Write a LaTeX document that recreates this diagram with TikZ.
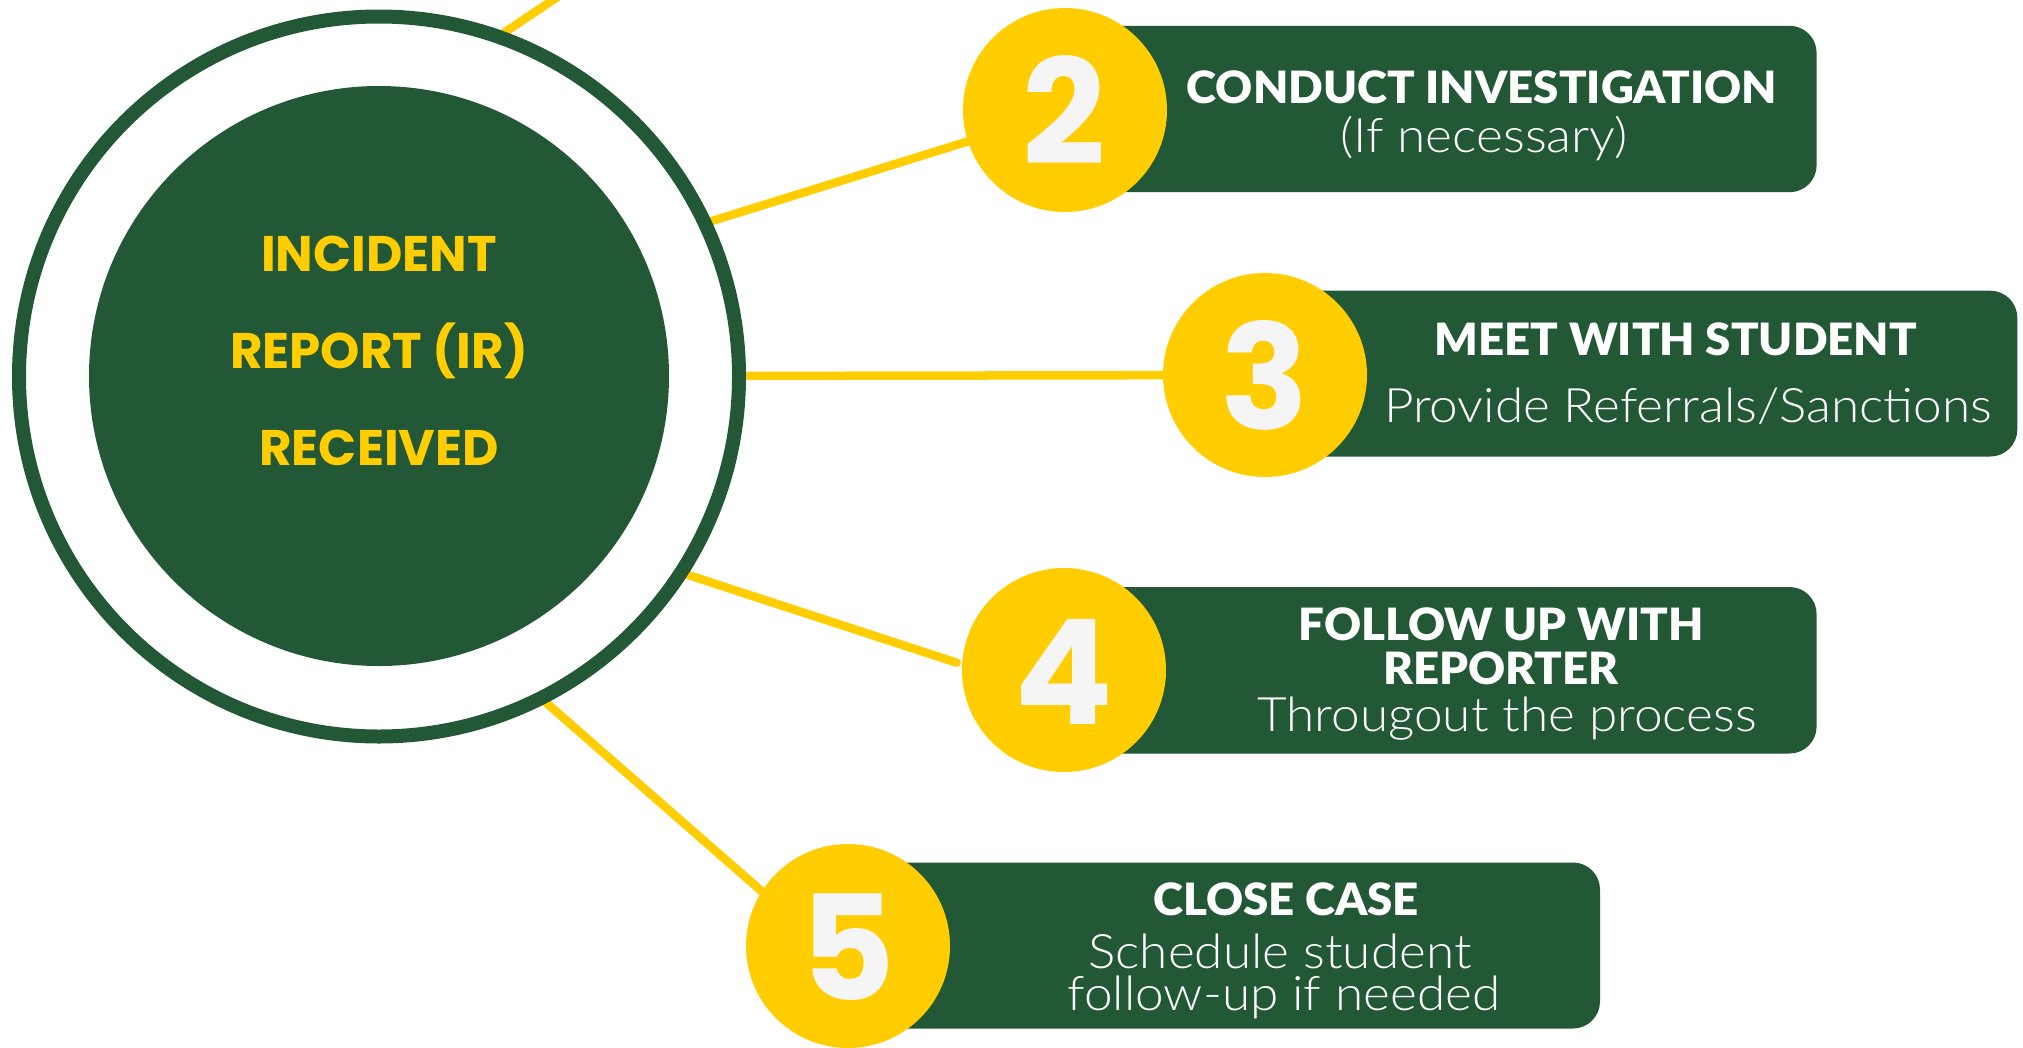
\documentclass[tikz,border=0pt]{standalone}
\usepackage{fontspec}
\setmainfont{Lato}[FakeStretch=1.04]
\newfontfamily\heavyfont{Lato Black}[FakeStretch=1.025]
\newfontfamily\lightfont{Lato Light}[FakeStretch=1.08]
\newfontfamily\popfont{Poppins}
\definecolor{dgreen}{HTML}{225835}
\definecolor{gold}{HTML}{FFCD00}
\definecolor{offwhite}{HTML}{F5F5F5}
\begin{document}
\begin{tikzpicture}[x=1pt,y=-1pt,
  conn/.style={draw=gold,line width=8.5pt},
  numdisc/.style={circle,fill=gold,minimum size=204pt,inner sep=0pt},
  digit/.style={font=\popfont\bfseries\fontsize{146}{146}\selectfont,text=offwhite,inner sep=0pt},
  ctext/.style={font=\popfont\bfseries\fontsize{50}{60}\selectfont,text=gold,anchor=base,inner sep=0pt},
  ttl/.style={font=\heavyfont\fontsize{44.5}{50}\selectfont,text=white,anchor=base,inner sep=0pt},
  sub/.style={font=\lightfont\fontsize{47.5}{50}\selectfont,text=white,anchor=base,inner sep=0pt},
  stepbox/.style={fill=dgreen,rounded corners=27pt}]
\useasboundingbox (0,0) rectangle (2023,1047);
\clip (0,0) rectangle (2023,1047);
% connector end points
\coordinate (a1) at (450,69);
\coordinate (b1) at (620,-45);
\coordinate (a2) at (650,240.3);
\coordinate (b2) at (1010,128.3);
\coordinate (a3) at (700,376);
\coordinate (a4) at (650,562.5);
\coordinate (b4) at (956.7,662.7);
\coordinate (a5) at (500,662.4);
\coordinate (b5) at (790,916);
% number discs positions
\coordinate (p2) at (1065,110);
\coordinate (p3) at (1265,375);
\coordinate (p4) at (1064,670);
\coordinate (p5) at (848,946);
% connectors
\draw[conn] (a1) -- (b1);
\draw[conn] (a2) -- (b2);
\draw[conn] (a3) -- (p3);
\draw[conn,line cap=round] (a4) -- (b4);
\draw[conn] (a5) -- (b5);
% central circle
\node[circle,draw=dgreen,line width=14pt,fill=white,minimum size=720pt,inner sep=0pt] (outer) at (379,376.5) {};
\node[circle,fill=dgreen,minimum size=580pt,inner sep=0pt] (inner) at (379,376) {};
\node[ctext] (c1) at (379,271) {INCIDENT};
\node[ctext] (c2) at (379,368) {REPORT (IR)};
\node[ctext] (c3) at (379,465) {RECEIVED};
% boxes
\fill[stepbox] (1065,25.8) rectangle (1816.6,192.2);
\fill[stepbox] (1265,290.7) rectangle (2017.3,456.5);
\fill[stepbox] (1064,587) rectangle (1816.6,753.5);
\fill[stepbox] (848,862.5) rectangle (1600,1028.5);
% discs
\node[numdisc] (n2) at (p2) {};
\node[numdisc] (n3) at (p3) {};
\node[numdisc] (n4) at (p4) {};
\node[numdisc] (n5) at (p5) {};
\node[digit] (d2) at (1064,110) {2};
\node[digit] (d3) at (1265,375.5) {3};
\node[digit] (d4) at (1064,672) {4};
\node[digit] (d5) at (848,947) {5};
% texts
\node[ttl] (t2) at (1482,103) {CONDUCT INVESTIGATION};
\node[sub] (s2) at (1484,152) {(If necessary)};
\node[ttl] (t3) at (1676,355) {MEET WITH STUDENT};
\node[sub] (s3) at (1688,422) {Provide Referrals/Sanctions};
\node[ttl] (t4a) at (1501,640) {FOLLOW UP WITH};
\node[ttl] (t4b) at (1501,684) {REPORTER};
\node[sub] (s4) at (1507,731) {Througout the process};
\node[ttl] (t5) at (1286,915) {CLOSE CASE};
\node[sub] (s5a) at (1280,968) {Schedule student};
\node[sub] (s5b) at (1284,1010) {follow-up if needed};
\end{tikzpicture}
\end{document}
